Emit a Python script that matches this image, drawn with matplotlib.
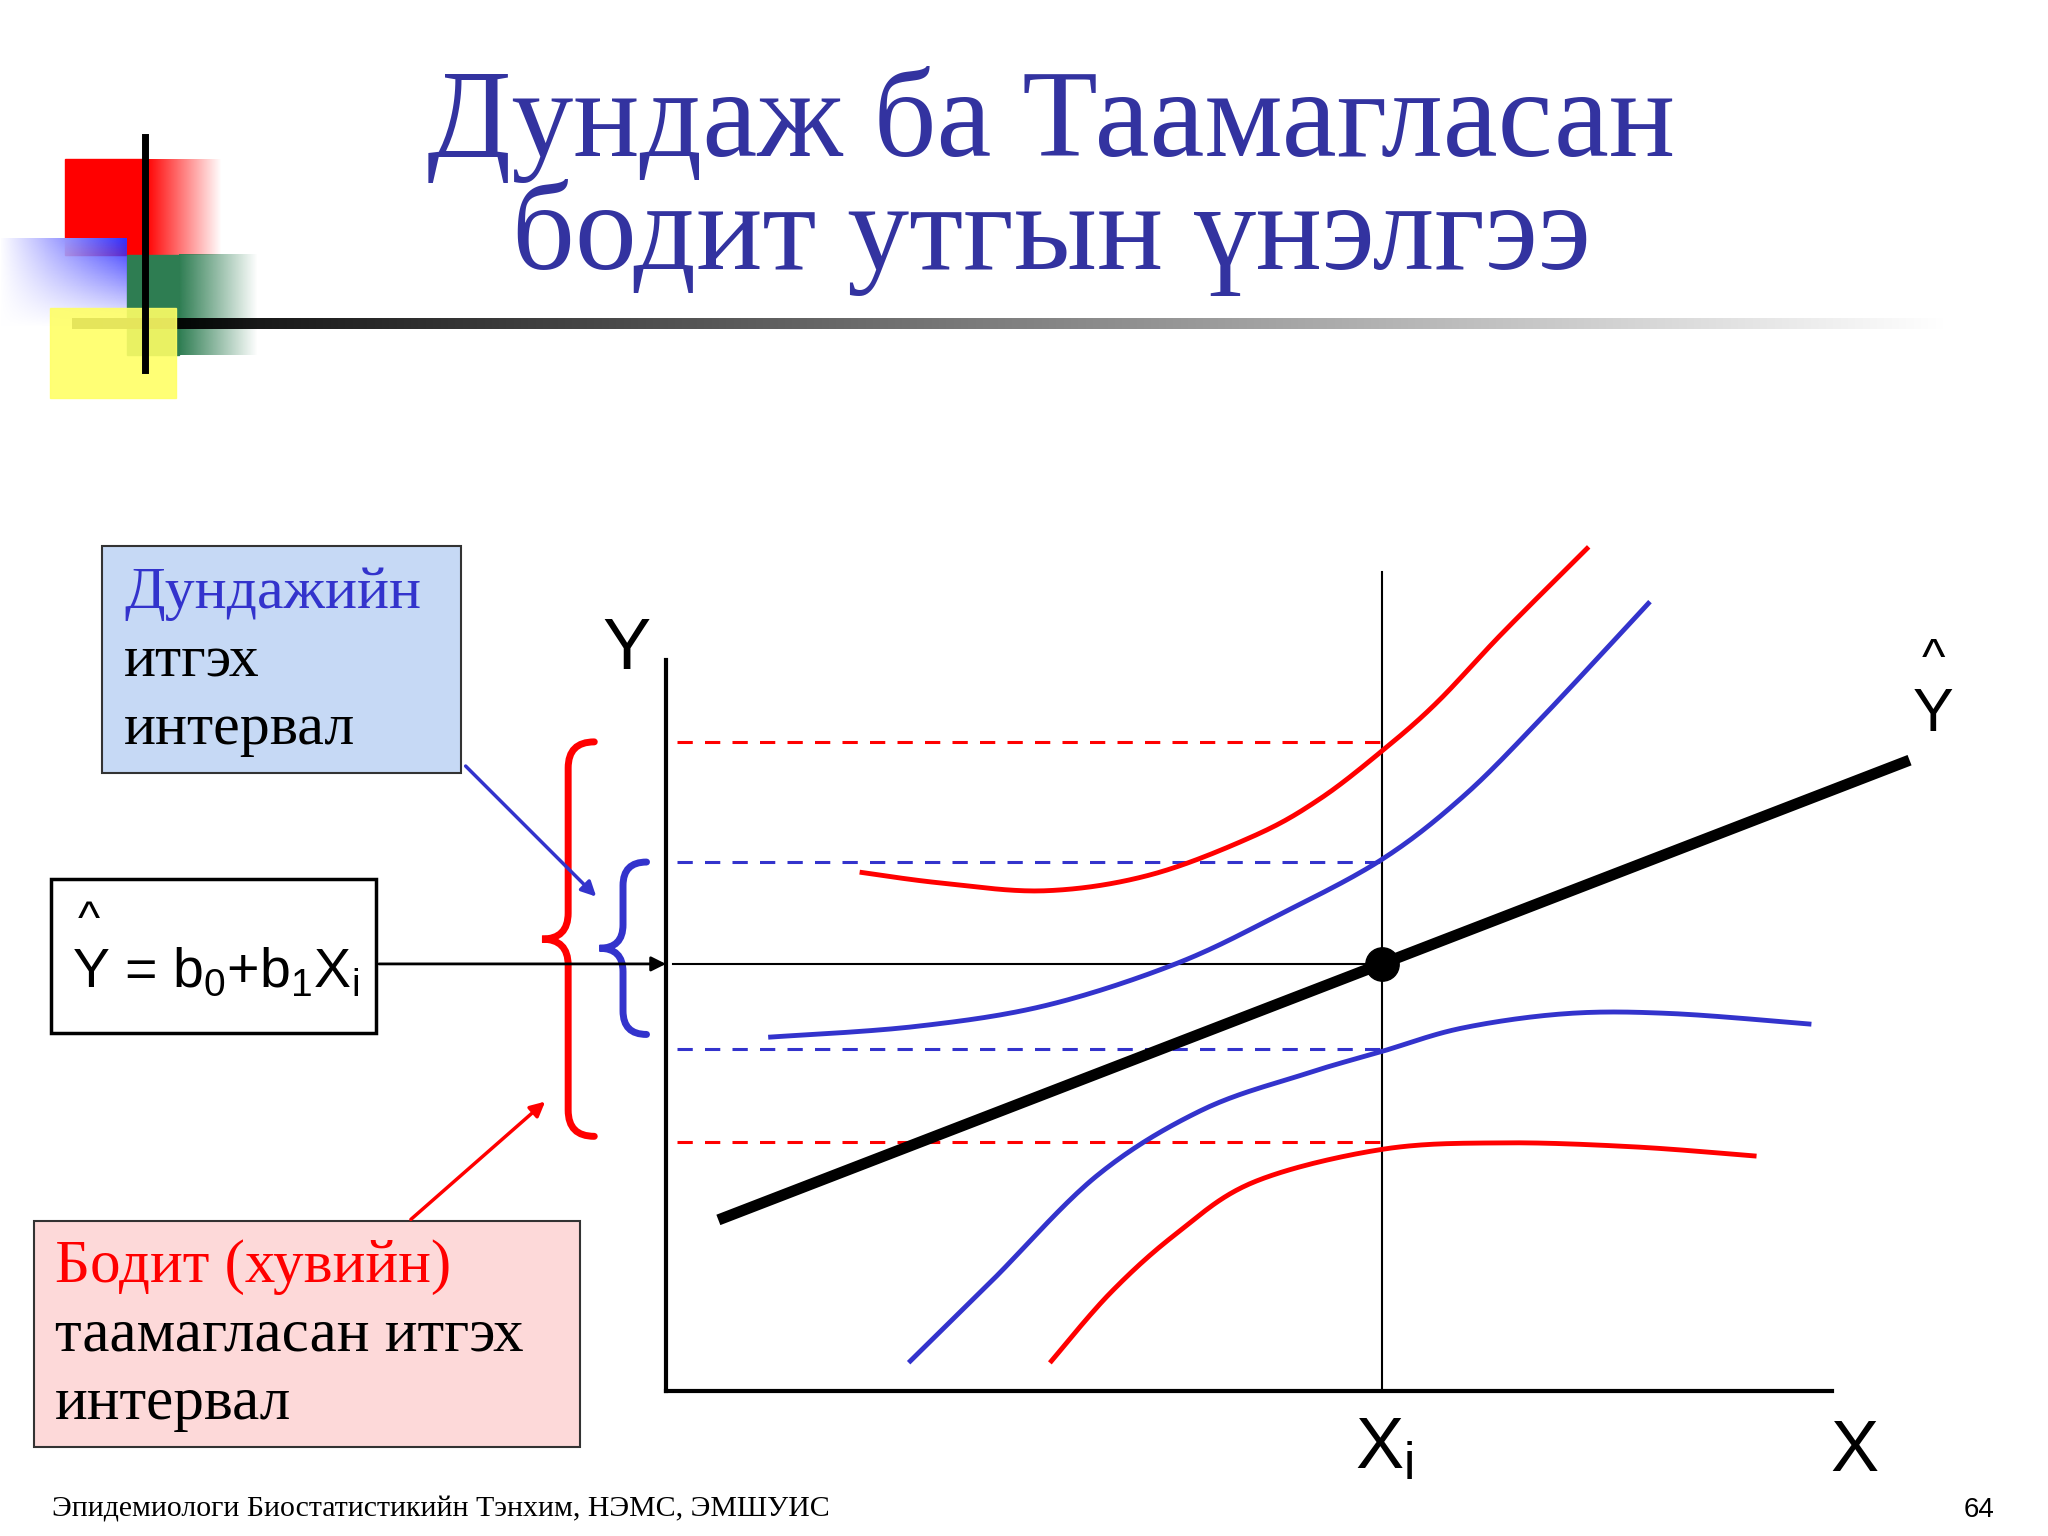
import numpy as np
import matplotlib
matplotlib.use("Agg")
import matplotlib.pyplot as plt
from matplotlib.patches import Rectangle, FancyArrowPatch, PathPatch
from matplotlib.path import Path

# ---- data (slide pixel space) ----
red_up_x = [660, 720, 800, 880, 960, 1010, 1058, 1100, 1150, 1215]
red_up_y = [668, 676, 682, 670, 640, 612, 575, 538, 485, 420]
blue_up_x = [590, 700, 800, 900, 980, 1058, 1120, 1180, 1262]
blue_up_y = [794, 786, 770, 738, 700, 658, 610, 550, 462]
blue_lo_x = [697, 760, 840, 920, 1000, 1058, 1120, 1200, 1280, 1385]
blue_lo_y = [1042, 980, 900, 850, 822, 805, 787, 776, 776, 784]
red_lo_x = [805, 850, 900, 960, 1058, 1150, 1250, 1343]
red_lo_y = [1042, 990, 945, 905, 880, 875, 878, 885]
reg_x = [550, 1462]
reg_y = [934, 582]
xi_point = (1058, 738)
red_dash_y = [568, 874]
blue_dash_y = [660, 803]

SERIF = ["Liberation Serif", "DejaVu Serif"]
SANS = ["Liberation Sans", "DejaVu Sans"]
TITLE_C = "#3333a0"

fig = plt.figure(figsize=(20.48, 15.36), dpi=100)
ax = fig.add_axes([0, 0, 1, 1])
ax.set_xlim(0, 1568); ax.set_ylim(1176, 0); ax.axis("off")

def smooth(xs, ys):
    tt = np.linspace(0, len(xs) - 1, 200)
    P = np.column_stack([xs, ys]).astype(float)
    P = np.vstack([P[0], P, P[-1]])
    out = []
    for v in tt:
        i = min(int(v), len(xs) - 2); u = v - i
        p0, p1, p2, p3 = P[i], P[i+1], P[i+2], P[i+3]
        out.append(0.5*((2*p1) + (-p0+p2)*u + (2*p0-5*p1+4*p2-p3)*u**2 + (-p0+3*p1-3*p2+p3)*u**3))
    out = np.array(out)
    return out[:, 0], out[:, 1]

grad = np.linspace(1, 0, 100)[None, :]
def gradrect(x0, y0, x1, y1, color, horiz=True):
    from matplotlib.colors import to_rgb
    r, g, b = to_rgb(color)
    a = grad if horiz else grad.T
    img = np.zeros(a.shape + (4,)); img[..., 0] = r; img[..., 1] = g; img[..., 2] = b; img[..., 3] = a
    ax.imshow(img, extent=(x0, x1, y1, y0), aspect="auto", zorder=1, interpolation="bilinear")
ax.add_patch(Rectangle((50, 122), 62, 73, color="#ff0000", zorder=1))
gradrect(112, 122, 170, 195, "#ff0000")
ax.add_patch(Rectangle((97, 195), 40, 77, color="#2e7d52", zorder=1))
gradrect(137, 195, 197, 272, "#2e7d52")
ax.add_patch(Rectangle((38, 236), 97, 69, color="#ffff66", zorder=2, alpha=0.9))
gradrect(0, 182, 97, 250, "#3333ff", horiz=False)
gradrect(0, 182, 97, 250, "#ffffff")
ax.plot([111, 111], [105, 283], color="black", lw=5, zorder=3)
gradrect(55, 244, 1500, 252, "#000000")

ax.text(805, 95, "Дундаж ба Таамагласан", family=SERIF, fontsize=89, color=TITLE_C, ha="center", va="center")
ax.text(805, 182, "бодит утгын үнэлгээ", family=SERIF, fontsize=89, color=TITLE_C, ha="center", va="center")

ax.plot([510, 510], [505, 1065], color="black", lw=3)
ax.plot([510, 1403], [1065, 1065], color="black", lw=3)
ax.plot([1058, 1058], [438, 1065], color="black", lw=1.5)
for y in red_dash_y:
    ax.plot([518, 1058], [y, y], color="#ff0000", lw=2.2, ls=(0, (5, 4)))
for y in blue_dash_y:
    ax.plot([518, 1058], [y, y], color="#3333cc", lw=2.2, ls=(0, (5, 4)))
ax.plot([515, 1058], [738, 738], color="black", lw=1.5)

for xs, ys, c in [(red_up_x, red_up_y, "#ff0000"), (blue_up_x, blue_up_y, "#3333cc"),
                  (blue_lo_x, blue_lo_y, "#3333cc"), (red_lo_x, red_lo_y, "#ff0000")]:
    sx, sy = smooth(xs, ys)
    ax.plot(sx, sy, color=c, lw=3.5)
ax.plot(reg_x, reg_y, color="black", lw=8, solid_capstyle="butt")
ax.plot(*xi_point, "o", color="black", ms=24)

ax.text(480, 498, "Y", family=SANS, fontsize=52, ha="center", va="center")
ax.text(1480, 505, "^", family=SANS, fontsize=36, ha="center", va="center")
ax.text(1480, 548, "Y", family=SANS, fontsize=44, ha="center", va="center")
ax.text(1420, 1112, "X", family=SANS, fontsize=52, ha="center", va="center")
ax.text(1060, 1110, r"X$_\mathregular{i}$", family=SANS, fontsize=52, ha="center", va="center")

def brace(x, y0, y1, w, color, lw):
    ym = (y0 + y1) / 2
    verts = [(x + w, y0), (x, y0), (x, y0 + w), (x, ym - w), (x, ym), (x - w, ym),
             (x, ym), (x, ym + w), (x, y1 - w), (x, y1), (x + w, y1)]
    codes = [Path.MOVETO, Path.CURVE3, Path.CURVE3, Path.LINETO, Path.CURVE3, Path.CURVE3,
             Path.CURVE3, Path.CURVE3, Path.LINETO, Path.CURVE3, Path.CURVE3]
    ax.add_patch(PathPatch(Path(verts, codes), fill=False, ec=color, lw=lw, capstyle="round"))
brace(435, 568, 870, 20, "#ff0000", 5)
brace(477, 660, 792, 18, "#3333cc", 5)

ax.add_patch(Rectangle((78, 418), 275, 174, fc="#c6d9f5", ec="#333333", lw=1.5))
ax.text(95, 455, "Дундажийн", family=SERIF, fontsize=43, color="#3333cc", va="center")
ax.text(95, 507, "итгэх", family=SERIF, fontsize=43, color="black", va="center")
ax.text(95, 559, "интервал", family=SERIF, fontsize=43, color="black", va="center")

ax.add_patch(Rectangle((39, 673), 249, 118, fc="white", ec="black", lw=2.5))
ax.text(68, 705, "^", family=SANS, fontsize=34, ha="center", va="center")
ax.text(55, 745, r"Y = b$_\mathregular{0}$+b$_\mathregular{1}$X$_\mathregular{i}$", family=SANS, fontsize=40, va="center")

ax.add_patch(Rectangle((26, 935), 418, 173, fc="#fdd9d9", ec="#333333", lw=1.5))
ax.text(42, 970, "Бодит (хувийн)", family=SERIF, fontsize=44, color="#ff0000", va="center")
ax.text(42, 1023, "таамагласан итгэх", family=SERIF, fontsize=44, color="black", va="center")
ax.text(42, 1075, "интервал", family=SERIF, fontsize=44, color="black", va="center")

ax.add_patch(FancyArrowPatch((288, 738), (512, 738), arrowstyle="-|>", mutation_scale=22, color="black", lw=2))
ax.add_patch(FancyArrowPatch((355, 585), (458, 688), arrowstyle="-|>", mutation_scale=22, color="#3333cc", lw=2.5))
ax.add_patch(FancyArrowPatch((313, 935), (419, 842), arrowstyle="-|>", mutation_scale=22, color="#ff0000", lw=2.5))

ax.text(40, 1156, "Эпидемиологи Биостатистикийн Тэнхим, НЭМС, ЭМШУИС", family=SERIF, fontsize=21.5, va="center")
ax.text(1527, 1156, "64", family=SANS, fontsize=20, ha="right", va="center")

fig.savefig("out.png", dpi=100)
